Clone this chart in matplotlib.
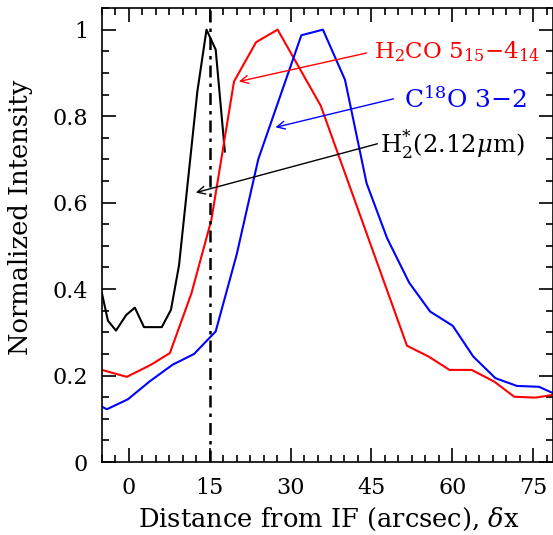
import matplotlib
matplotlib.use('Agg')
import matplotlib.pyplot as plt
import numpy as np
from matplotlib.ticker import MultipleLocator, FormatStrFormatter

plt.rcParams['font.family'] = 'DejaVu Serif'
plt.rcParams['mathtext.fontset'] = 'dejavuserif'

# H2* (2.12 um)
h2_x = [-5.0, -3.9, -2.4, -0.5, 1.1, 2.8, 6.1, 7.8, 9.3, 12.7, 14.4, 16.1, 17.8]
h2_y = [0.39, 0.327, 0.304, 0.340, 0.357, 0.312, 0.312, 0.352, 0.455, 0.857, 1.0, 0.954, 0.718]

# H2CO 5_15-4_14
h2co_x = [-5.0, -0.4, 4.1, 7.6, 11.6, 15.3, 19.5, 23.6, 27.6, 35.6, 51.6, 55.6, 59.5, 63.6, 67.8, 71.5, 75.5, 79.5]
h2co_y = [0.213, 0.197, 0.225, 0.252, 0.39, 0.56, 0.88, 0.971, 1.0, 0.824, 0.269, 0.244, 0.213, 0.213, 0.186, 0.151, 0.149, 0.157]

# C18O 3-2
c18o_x = [-5.0, -4.1, -0.2, 3.8, 8.1, 12.1, 16.1, 20.0, 24.0, 32.0, 36.0, 40.1, 44.1, 47.9, 52.0, 55.9, 60.1, 63.9, 68.0, 72.0, 76.1, 80.0]
c18o_y = [0.128, 0.122, 0.145, 0.186, 0.225, 0.25, 0.302, 0.48, 0.70, 0.987, 1.0, 0.884, 0.645, 0.518, 0.415, 0.348, 0.315, 0.244, 0.194, 0.176, 0.174, 0.152]

if_pos = 15

fig = plt.figure(figsize=(5.53, 5.35), dpi=100)
ax = fig.add_axes([0.1844, 0.1364, 0.8156, 0.8486])

ax.plot(h2_x, h2_y, color='black', lw=1.5)
ax.plot(h2co_x, h2co_y, color='red', lw=1.5)
ax.plot(c18o_x, c18o_y, color='blue', lw=1.5)
ax.axvline(if_pos, color='black', lw=1.8, dashes=(4.8, 2.4, 1.4, 2.4))

# annotations (label, arrow tail, arrow head)
arr = dict(arrowstyle='->', lw=1.0, mutation_scale=14, shrinkA=0, shrinkB=0)
ax.annotate('', xy=(20.4, 0.880), xytext=(44.1, 0.946),
            arrowprops=dict(arr, color='red'))
ax.text(45.5, 0.949, 'H$_2$CO 5$_{15}$$-$4$_{14}$', color='red', fontsize=16.5, va='center')
ax.annotate('', xy=(27.2, 0.774), xytext=(49.1, 0.840),
            arrowprops=dict(arr, color='blue'))
ax.text(51.0, 0.838, 'C$^{18}$O 3$-$2', color='blue', fontsize=18, va='center')
ax.annotate('', xy=(12.4, 0.623), xytext=(46.1, 0.736),
            arrowprops=dict(arr, color='black'))
ax.text(46.6, 0.731, 'H$_2^{*}$(2.12$\\mu$m)', color='black', fontsize=17.5, va='center')

ax.set_xlim(-5, 78.7)
ax.set_ylim(0, 1.05)
ax.xaxis.set_major_locator(MultipleLocator(15))
ax.xaxis.set_minor_locator(MultipleLocator(2.5))
ax.yaxis.set_major_locator(MultipleLocator(0.2))
ax.yaxis.set_minor_locator(MultipleLocator(0.05))
ax.yaxis.set_major_formatter(FormatStrFormatter('%g'))
ax.tick_params(which='both', direction='in', top=True, right=True, labelsize=16, width=1.2)
ax.tick_params(which='major', length=10)
ax.tick_params(axis='x', which='major', pad=11)
ax.tick_params(axis='y', which='major', pad=10)
ax.tick_params(which='minor', length=5)
for s in ax.spines.values():
    s.set_linewidth(1.2)

fig.text(0.594, 8 / 535, 'Distance from IF (arcsec), $\\delta$x', fontsize=18.5,
         ha='center', va='baseline')
fig.text(21 / 553, 0.594, 'Normalized Intensity', fontsize=18.5, rotation=90,
         ha='center', va='center')

fig.savefig('out.png', dpi=100)
